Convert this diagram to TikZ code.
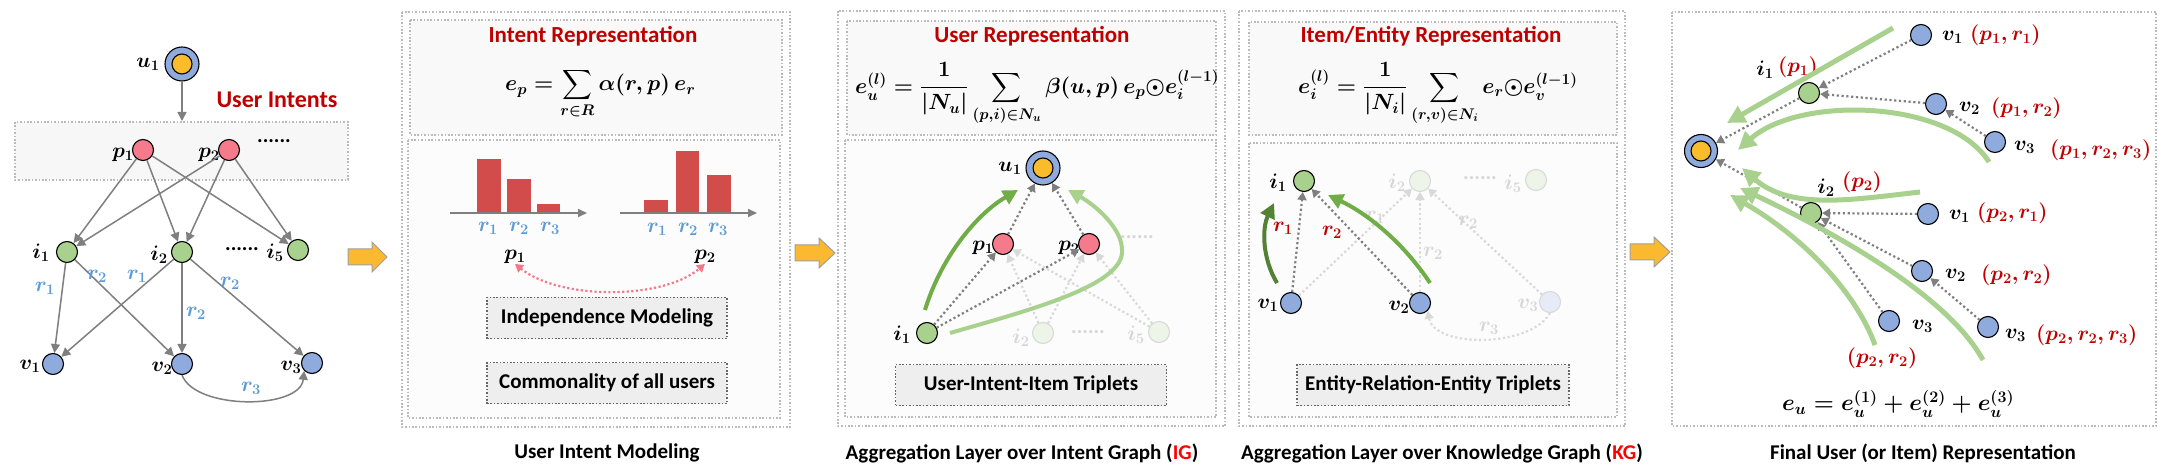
\RequirePackage{fix-cm}
\documentclass[tikz,border=0pt]{standalone}
\usepackage[no-math]{fontspec}
\setmainfont{Carlito}
\usepackage{amsmath}
\usetikzlibrary{arrows.meta}
\definecolor{cblue}{HTML}{8FAADC}
\definecolor{cgreen}{HTML}{A9D18E}
\definecolor{cpink}{HTML}{F47A8C}
\definecolor{cyel}{HTML}{FBBC2C}
\definecolor{dred}{HTML}{C00000}
\definecolor{capred}{HTML}{FF0000}
\definecolor{rblue}{HTML}{5B9BD5}
\definecolor{agray}{HTML}{7F7F7F}
\definecolor{boxgray}{HTML}{BBBBBB}
\definecolor{gdark}{HTML}{548235}
\definecolor{gmid}{HTML}{70AD47}
\definecolor{glight}{HTML}{A9D18E}
\definecolor{barred}{HTML}{D24C4C}
\definecolor{orng}{HTML}{FBB92F}
\definecolor{fadeline}{HTML}{D9D9D9}
\definecolor{fadetext}{HTML}{D6D6D6}
\definecolor{fadegreen}{HTML}{EDF5E8}
\definecolor{fadeblue}{HTML}{E6ECF7}
\definecolor{pinkline}{HTML}{F4788A}
\begin{document}
\begin{tikzpicture}[x=1pt,y=-1pt,
 tb/.style={font=\bfseries\fontsize{21}{25}\selectfont, inner sep=0pt},
 ttl/.style={font=\bfseries\fontsize{23}{27}\selectfont, text=dred, inner sep=0pt},
 ml/.style={font=\fontsize{21}{25}\selectfont\boldmath, inner sep=0pt},
 bl/.style={ml, text=rblue},
 rl/.style={ml, text=dred},
 fl/.style={ml, text=fadetext},
 fml/.style={font=\fontsize{22}{26}\selectfont\boldmath, inner sep=0pt, anchor=west},
 nd/.style={circle, draw=black, line width=1.1pt, minimum size=21pt, inner sep=0pt},
 gn/.style={nd, fill=cgreen},
 bn/.style={nd, fill=cblue},
 pn/.style={nd, fill=cpink},
 fgn/.style={nd, draw=fadeline, fill=fadegreen},
 fbn/.style={nd, draw=fadeline, fill=fadeblue},
 un/.style={circle, draw=black, line width=1.1pt, fill=cblue, minimum size=34pt, inner sep=0pt},
 uin/.style={circle, draw=black, line width=1.1pt, fill=cyel, minimum size=20pt, inner sep=0pt},
 garr/.style={draw=agray, line width=1.5pt, -{Triangle[length=9pt,width=9pt]}},
 darr/.style={draw=agray, line width=2.2pt, dash pattern=on 2.2pt off 2.6pt, -{Triangle[length=8pt,width=9pt]}},
 farr/.style={draw=fadeline, line width=2.2pt, dash pattern=on 2.2pt off 2.6pt, -{Triangle[length=8pt,width=9pt]}},
 pbox/.style={draw=boxgray, line width=1.6pt, dash pattern=on 1.6pt off 1.8pt},
 lbox/.style={tb, draw=black!60, line width=1.6pt, dash pattern=on 1.6pt off 1.8pt, fill=gray!13, minimum height=41pt},
 oarr/.style={fill=orng, draw=gray!75, line width=1pt},
 axisl/.style={draw=agray, line width=1.8pt, -{Triangle[length=9pt,width=8pt]}},
 bigg/.style={line width=4pt, -{Triangle[length=15pt,width=15pt]}},
 bigl/.style={draw=glight, line width=5pt, -{Triangle[length=18pt,width=18pt]}}
]
\useasboundingbox[fill=white] (0,0) rectangle (2166,470);

% ================= Panel 1 =================
\draw[pbox, fill=gray!6] (15,122) rectangle (348,180);
\coordinate (ibtop) at (182,121);
\node[un] (u1) at (182,64) {};
\node[uin] (u1in) at (182,64) {};
\node[ml] (u1l) at (148,64) {$u_1$};
\node[ttl, font=\bfseries\fontsize{24}{28}\selectfont] (uint) at (277,100) {User Intents};
\node[pn] (p1) at (143,150) {};
\node[pn] (p2) at (229,150) {};
\node[ml] (p1l) at (123,155) {$p_1$};
\node[ml] (p2l) at (209,155) {$p_2$};
\node[tb] (pd) at (274,141) {......};
\node[gn] (i1) at (67,252) {};
\node[gn] (i2) at (182,252) {};
\node[gn] (i5) at (298,250) {};
\node[ml] (i1l) at (41,253) {$i_1$};
\node[ml] (i2l) at (159,255) {$i_2$};
\node[ml] (i5l) at (275,253) {$i_5$};
\node[tb] (id) at (242,249) {......};
\node[bn] (v1) at (53,364) {};
\node[bn] (v2) at (182,364) {};
\node[bn] (v3) at (312,363) {};
\node[ml] (v1l) at (30,366) {$v_1$};
\node[ml] (v2l) at (162,368) {$v_2$};
\node[ml] (v3l) at (291,367) {$v_3$};
\draw[garr] (u1) -- (ibtop);
\draw[garr] (p1) -- (i1);
\draw[garr] (p1) -- (i2);
\draw[garr] (p1) -- (i5);
\draw[garr] (p2) -- (i1);
\draw[garr] (p2) -- (i2);
\draw[garr] (p2) -- (i5);
\draw[garr] (i1) -- (v1);
\draw[garr] (i1) -- (v2);
\draw[garr] (i2) -- (v1);
\draw[garr] (i2) -- (v2);
\draw[garr] (i2) -- (v3);
\draw[garr] (v2.south) .. controls (195,410) and (300,410) .. (v3.south west);
\node[bl] at (45,288) {$r_1$};
\node[bl] at (97,276) {$r_2$};
\node[bl] at (137,276) {$r_1$};
\node[bl] at (196,313) {$r_2$};
\node[bl] at (230,283) {$r_2$};
\node[bl] at (251,388) {$r_3$};

% orange arrows
\draw[oarr] (348,249) -- (372,249) -- (372,242) -- (387,257) -- (372,272) -- (372,265) -- (348,265) -- cycle;
\draw[oarr] (795,245) -- (819,245) -- (819,238) -- (835,253) -- (819,268) -- (819,261) -- (795,261) -- cycle;
\draw[oarr] (1630,244) -- (1654,244) -- (1654,237) -- (1670,252) -- (1654,267) -- (1654,260) -- (1630,260) -- cycle;

% ================= Panel 2 =================
\draw[pbox, fill=white] (402,12) rectangle (790,427);
\draw[pbox, fill=gray!5] (410,20) rectangle (782,135);
\draw[pbox, fill=gray!2] (408,140) rectangle (780,418);
\node[ttl] (t2) at (593,36) {Intent Representation};
\node[fml] (f2) at (505,94) {$\displaystyle e_p=\sum_{r\in R}\alpha(r,p)\,e_r$};
\fill[barred] (477,212) rectangle (501,159);
\fill[barred] (507,212) rectangle (531,179);
\fill[barred] (537,212) rectangle (560,204);
\fill[barred] (644,212) rectangle (668,200);
\fill[barred] (676,212) rectangle (699,151);
\fill[barred] (707,212) rectangle (731,175);
\draw[axisl] (450,213) -- (587,213);
\draw[axisl] (620,213) -- (757,213);
\node[bl] at (488,228) {$r_1$};
\node[bl] at (519,228) {$r_2$};
\node[bl] at (550,228) {$r_3$};
\node[bl] at (657,229) {$r_1$};
\node[bl] at (688,229) {$r_2$};
\node[bl] at (718,229) {$r_3$};
\node[ml] (q1) at (515,257) {$p_1$};
\node[ml] (q2) at (705,257) {$p_2$};
\draw[draw=pinkline, line width=2.2pt, dash pattern=on 2.2pt off 2.4pt, {Triangle[length=8pt,width=9pt]}-{Triangle[length=8pt,width=9pt]}] (q1.south) .. controls (560,300) and (662,300) .. (q2.south);
\node[lbox, minimum width=240pt] (im) at (607,318) {Independence Modeling};
\node[lbox, minimum width=240pt] (cm) at (607,383) {Commonality of all users};
\node[tb] (c2) at (607,453) {User Intent Modeling};

% ================= Panel 3 =================
\draw[pbox, fill=white] (838,11) rectangle (1225,426);
\draw[pbox, fill=gray!5] (847,21) rectangle (1216,135);
\draw[pbox, fill=gray!2] (845,140) rectangle (1216,417);
\node[ttl] (t3) at (1032,36) {User Representation};
\node[fml] (f3) at (855,94) {$\displaystyle e_u^{(l)}=\frac{1}{|N_u|}\sum_{(p,i)\in N_u}\beta(u,p)\,e_p{\odot}e_i^{(l-1)}$};
\node[fgn] (bi2) at (1043,333) {};
\node[fgn] (bi5) at (1159,332) {};
\node[fl] at (1021,338) {$i_2$};
\node[fl] at (1136,335) {$i_5$};
\node[tb, text=fadetext] at (1088,332) {......};
\node[tb, text=fadetext] at (1137,237) {......};
\node[un] (bu) at (1043,168) {};
\node[uin] (buin) at (1043,168) {};
\node[ml] at (1010,168) {$u_1$};
\node[pn] (bp1) at (1003,244) {};
\node[pn] (bp2) at (1089,244) {};
\node[ml] at (983,248) {$p_1$};
\node[ml] at (1069,248) {$p_2$};
\node[gn] (bi1) at (927,333) {};
\node[ml] at (902,335) {$i_1$};
\draw[farr] (bi2) -- (bp1);
\draw[farr] (bi2) -- (bp2);
\draw[farr] (bi5) -- (bp1);
\draw[farr] (bi5) -- (bp2);
\draw[darr] (bi1) -- (bp1);
\draw[darr] (bi1) -- (bp2);
\draw[darr] (bp1) -- (bu);
\draw[darr] (bp2) -- (bu);
\coordinate (g3a) at (925,310);
\coordinate (g3b) at (1018,190);
\coordinate (g3c) at (950,333);
\coordinate (g3d) at (1122,250);
\coordinate (g3e) at (1068,190);
\draw[bigg, draw=gmid] (g3a) .. controls (940,260) and (975,215) .. (g3b);
\draw[bigg, draw=glight] (g3c) .. controls (1030,310) and (1125,285) .. (g3d) .. controls (1122,228) and (1095,205) .. (g3e);
\node[lbox, minimum width=271pt] (tr3) at (1031,385) {User-Intent-Item Triplets};
\node[tb] (c3) at (1022,453) {Aggregation Layer over Intent Graph (\textcolor{capred}{IG})};

% ================= Panel 4 =================
\draw[pbox, fill=white] (1239,11) rectangle (1625,426);
\draw[pbox, fill=gray!5] (1249,22) rectangle (1617,135);
\draw[pbox, fill=gray!2] (1249,143) rectangle (1617,417);
\node[ttl] (t4) at (1431,36) {Item/Entity Representation};
\node[fml] (f4) at (1298,94) {$\displaystyle e_i^{(l)}=\frac{1}{|N_i|}\sum_{(r,v)\in N_i}e_r{\odot}e_v^{(l-1)}$};
\node[fgn] (ki2) at (1420,181) {};
\node[fgn] (ki5) at (1536,180) {};
\node[fl] at (1397,183) {$i_2$};
\node[fl] at (1513,184) {$i_5$};
\node[tb, text=fadetext] at (1480,178) {......};
\node[fbn] (kv3) at (1550,302) {};
\node[fl] at (1528,305) {$v_3$};
\node[gn] (ki1) at (1304,181) {};
\node[ml] at (1278,183) {$i_1$};
\node[bn] (kv1) at (1291,303) {};
\node[bn] (kv2) at (1420,303) {};
\node[ml] at (1268,305) {$v_1$};
\node[ml] at (1399,307) {$v_2$};
\draw[farr] (kv1) -- (ki2);
\draw[farr] (kv2) -- (ki2);
\draw[farr] (kv3) -- (ki2);
\draw[farr] (kv3.south) .. controls (1530,348) and (1434,348) .. (kv2.south east);
\node[fl] at (1375,217) {$r_1$};
\node[fl] at (1468,222) {$r_2$};
\node[fl] at (1433,253) {$r_2$};
\node[fl] at (1489,328) {$r_3$};
\draw[darr] (kv1) -- (ki1);
\draw[darr] (kv2) -- (ki1);
\node[rl] at (1283,228) {$r_1$};
\node[rl] at (1332,232) {$r_2$};
\coordinate (g4a) at (1277,283);
\coordinate (g4b) at (1274,203);
\coordinate (g4c) at (1430,283);
\coordinate (g4d) at (1328,195);
\draw[bigg, draw=gdark] (g4a) .. controls (1262,258) and (1262,228) .. (g4b);
\draw[bigg, draw=gmid] (g4c) .. controls (1405,245) and (1370,215) .. (g4d);
\node[lbox, minimum width=272pt] (tr4) at (1433,385) {Entity-Relation-Entity Triplets};
\node[tb] (c4) at (1442,453) {Aggregation Layer over Knowledge Graph (\textcolor{capred}{KG})};

% ================= Panel 5 =================
\draw[pbox, fill=white] (1672,12) rectangle (2156,426);
\node[un, minimum size=33pt] (fu) at (1701,151) {};
\node[uin] (fuin) at (1701,151) {};
\node[gn] (fi1) at (1809,93) {};
\node[gn] (fi2) at (1811,213) {};
\node[bn] (fa1) at (1921,35) {};
\node[bn] (fa2) at (1936,104) {};
\node[bn] (fa3) at (1995,142) {};
\node[bn] (fb1) at (1928,214) {};
\node[bn] (fb2) at (1922,271) {};
\node[bn] (fb3) at (1988,327) {};
\node[bn] (fc3) at (1889,321) {};
\node[ml, anchor=west] at (1942,37) {$v_1$};
\node[rl, anchor=west] at (1970,35) {$(p_1,r_1)$};
\node[ml, anchor=west] at (1959,108) {$v_2$};
\node[rl, anchor=west] at (1991,108) {$(p_1,r_2)$};
\node[ml, anchor=west] at (2014,147) {$v_3$};
\node[rl, anchor=west] at (2050,150) {$(p_1,r_2,r_3)$};
\node[ml, anchor=west] at (1949,216) {$v_1$};
\node[rl, anchor=west] at (1977,213) {$(p_2,r_1)$};
\node[ml, anchor=west] at (1945,275) {$v_2$};
\node[rl, anchor=west] at (1981,275) {$(p_2,r_2)$};
\node[ml, anchor=west] at (2005,335) {$v_3$};
\node[rl, anchor=west] at (2036,335) {$(p_2,r_2,r_3)$};
\node[ml, anchor=west] at (1912,326) {$v_3$};
\node[rl] at (1882,358) {$(p_2,r_2)$};
\node[ml] at (1765,70) {$i_1$};
\node[rl] at (1798,67) {$(p_1)$};
\node[ml] at (1826,188) {$i_2$};
\node[rl] at (1862,182) {$(p_2)$};
\draw[darr] (fa1) -- (fi1);
\draw[darr] (fa2) -- (fi1);
\draw[darr] (fa3) -- (fa2);
\draw[darr] (fi1) -- (fu);
\draw[darr] (fi2) -- (fu);
\draw[darr] (fb1) -- (fi2);
\draw[darr] (fb2) -- (fi2);
\draw[darr] (fc3) -- (fi2);
\draw[darr] (fb3) -- (fb2);
\coordinate (h1a) at (1893,28);
\coordinate (h1b) at (1727,123);
\coordinate (h2a) at (1989,162);
\coordinate (h2b) at (1738,150);
\coordinate (h3a) at (1920,192);
\coordinate (h3b) at (1742,168);
\coordinate (h4a) at (1983,360);
\coordinate (h4b) at (1740,188);
\coordinate (h5a) at (1875,345);
\coordinate (h5b) at (1730,195);
\draw[bigl] (h1a) -- (h1b);
\draw[bigl] (h2a) .. controls (1950,100) and (1800,95) .. (h2b);
\draw[bigl] (h3a) .. controls (1850,200) and (1790,210) .. (h3b);
\draw[bigl] (h4a) .. controls (1950,300) and (1850,240) .. (h4b);
\draw[bigl] (h5a) .. controls (1855,290) and (1800,235) .. (h5b);
\node[fml, font=\fontsize{23}{27}\selectfont\boldmath] (f5) at (1782,404) {$e_u=e_u^{(1)}+e_u^{(2)}+e_u^{(3)}$};
\node[tb] (c5) at (1923,453) {Final User (or Item) Representation};
\end{tikzpicture}
\end{document}
